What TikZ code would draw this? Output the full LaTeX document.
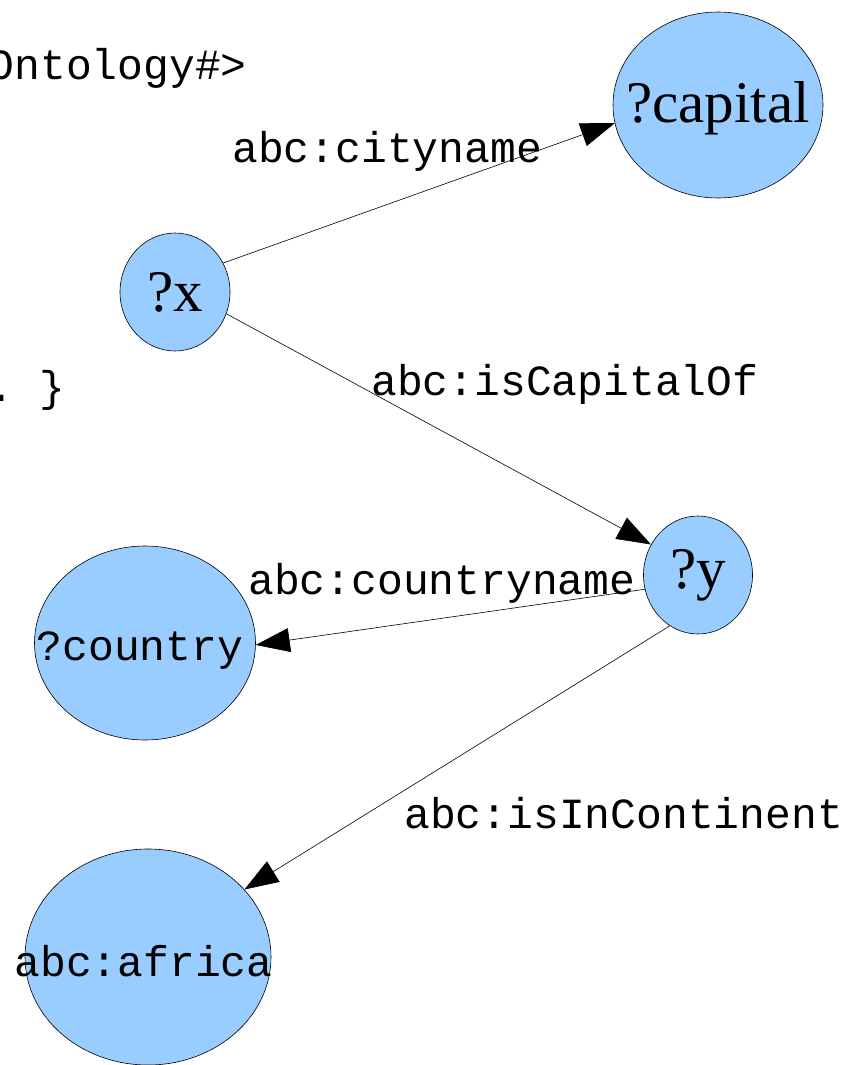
\documentclass[tikz,border=0pt]{standalone}
\usepackage{fontspec}
\setmainfont{Liberation Serif}
\setmonofont{Liberation Mono}
\usetikzlibrary{shapes.geometric,arrows.meta}
\definecolor{nodeblue}{HTML}{99CCFF}
\begin{document}
\begin{tikzpicture}[x=1pt,y=-1pt,
  vert/.style={ellipse,draw=black,line width=0.6pt,fill=nodeblue,inner sep=0pt},
  serif/.style={font=\fontsize{59}{62}\selectfont\rmfamily},
  mono/.style={font=\fontsize{43}{46}\selectfont\ttfamily},
  lbl/.style={mono,inner sep=0pt,anchor=base west},
  edge/.style={line width=0.6pt,-{Triangle[length=34pt,width=24pt]}}]
\useasboundingbox (0,0) rectangle (852,1065);
% partial text at left
\node[mono,inner sep=0pt,anchor=base east] (ont) at (247,79) {Ontology\#>};
\node[mono,inner sep=0pt,anchor=base east] (brace) at (66,401) {.\ \}};
% vertices
\node[vert,serif,minimum width=210pt,minimum height=186pt] (capital) at (718,105) {\makebox[0pt]{\raisebox{-3pt}[\height][\depth]{?capital}}};
\node[vert,serif,minimum width=110pt,minimum height=118pt] (x) at (175,292) {\makebox[0pt]{?x}};
\node[vert,serif,minimum width=109pt,minimum height=118pt] (y) at (698,575) {\makebox[0pt]{?y}};
\node[vert,mono,minimum width=221pt,minimum height=194pt] (country) at (145,643) {\makebox[0pt]{\hspace*{-10pt}\raisebox{-8pt}[\height][\depth]{?country}}};
\node[vert,mono,minimum width=246pt,minimum height=216pt] (africa) at (148,957) {\makebox[0pt]{\hspace*{-9pt}\raisebox{-4pt}[\height][\depth]{abc:africa}}};
% edges
\draw[edge] (x.31) -- (capital.190.3);
\draw[edge] (x.-23.6) -- (y.147);
\draw[edge] (y.195.5) -- (country.-1);
\draw[edge] (y.241.8) -- (africa.35.3);
% edge labels
\node[lbl] (l1) at (232,162) {abc:cityname};
\node[lbl] (l2) at (371,395) {abc:isCapitalOf};
\node[lbl] (l3) at (248,594) {abc:countryname};
\node[lbl] (l4) at (404,828) {abc:isInContinent};
\end{tikzpicture}
\end{document}
